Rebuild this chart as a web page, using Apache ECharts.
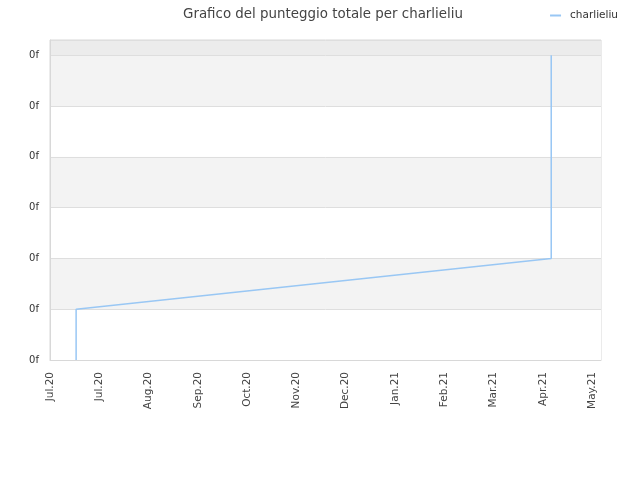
<!DOCTYPE html>
<html>
<head>
<meta charset="utf-8">
<script src="https://cdn.jsdelivr.net/npm/echarts@6/dist/echarts.min.js"></script>
<style>html,body{margin:0;padding:0;background:#fff}#c{width:640px;height:480px}</style>
</head>
<body>
<div id="c"></div>
<script>
var monthLabels = ['Jul.20','Jul.20','Aug.20','Sep.20','Oct.20','Nov.20','Dec.20','Jan.21','Feb.21','Mar.21','Apr.21','May.21'];
var seriesName = 'charlieliu';
var xValues = [0.53, 0.53, 0.53, 10.17, 10.17, 10.17];
var yValues = [0, 0.5, 1, 2, 4.5, 6];
var yTickLabel = '0f';

var chart = echarts.init(document.getElementById('c'));
chart.setOption({
  animation: false,
  title: {
    text: 'Grafico del punteggio totale per charlieliu',
    left: 318, top: 3, textAlign: 'center',
    textStyle: {fontFamily: 'DejaVu Sans', fontSize: 13.4, fontWeight: 'normal', color: '#444'}
  },
  legend: {
    data: [seriesName], right: 17, top: 5,
    icon: 'rect', itemWidth: 11, itemHeight: 2, itemGap: 6,
    textStyle: {fontFamily: 'DejaVu Sans', fontSize: 10.5, color: '#333', padding: [0, 0, 0, 4]}
  },
  grid: {left: 50, right: 39, top: 40, bottom: 120, show: true, borderColor: '#d8d8d8', borderWidth: 1},
  xAxis: {
    type: 'value', min: 0, max: 11.18, interval: 1,
    axisLine: {show: true, lineStyle: {color: '#d8d8d8'}},
    axisTick: {show: false},
    splitLine: {show: false},
    axisLabel: {
      rotate: 90, fontFamily: 'DejaVu Sans', fontSize: 10.5, color: '#444', margin: 12,
      showMaxLabel: false,
      formatter: function (v) { var i = Math.round(v); return Math.abs(v - i) < 1e-6 ? (monthLabels[i] || '') : ''; }
    }
  },
  yAxis: {
    type: 'value', min: 0, max: 6.3, interval: 1,
    axisLine: {show: true, lineStyle: {color: '#d8d8d8'}},
    axisTick: {show: false},
    splitLine: {show: true, lineStyle: {color: '#dedede'}},
    splitArea: {show: true, areaStyle: {color: ['#ffffff','#f3f3f3','#ffffff','#f3f3f3','#ffffff','#f3f3f3','#ececec']}},
    axisLabel: {fontFamily: 'DejaVu Sans', fontSize: 10, color: '#333', margin: 11,
      showMaxLabel: false,
      formatter: function (v) { return Math.abs(v - Math.round(v)) < 1e-6 ? yTickLabel : ''; }}
  },
  series: [{
    name: seriesName, type: 'line', showSymbol: false,
    lineStyle: {color: '#99c7f4', width: 1.5},
    itemStyle: {color: '#99c7f4'},
    data: xValues.map(function (x, i) { return [x, yValues[i]]; })
  }]
});
</script>
</body>
</html>
